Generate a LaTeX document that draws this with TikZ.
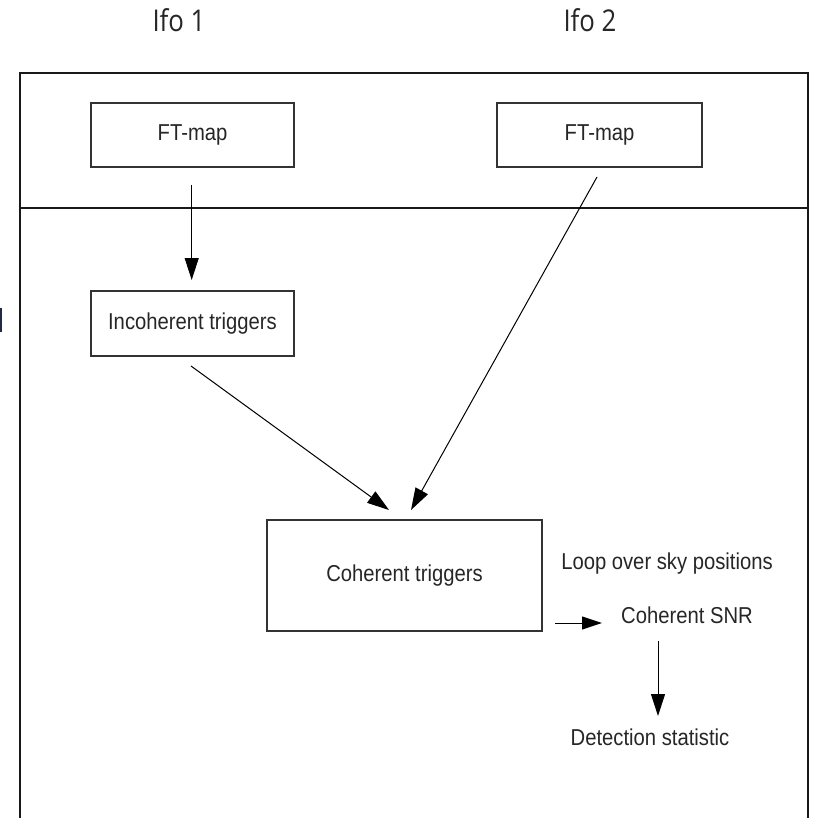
\documentclass[tikz,border=0pt]{standalone}
\usepackage{fontspec}
\setmainfont{Liberation Sans}
\newfontfamily\boxfont[FakeStretch=0.88]{Liberation Sans}
\newfontfamily\ifofont[FakeStretch=0.86]{Open Sans}
\usetikzlibrary{arrows.meta}
\definecolor{boxline}{HTML}{333333}
\definecolor{frag}{HTML}{1F2A44}
\tikzset{
  procbox/.style={draw=boxline, line width=1.2pt, inner sep=0pt, font=\boxfont\fontsize{23}{26}\selectfont, text=black!85},
  plain/.style={inner sep=0pt, font=\boxfont\fontsize{23}{26}\selectfont, text=black!85},
  ifolabel/.style={inner sep=0pt, font=\ifofont\fontsize{30}{34}\selectfont, text=black!85},
  flow/.style={line width=1pt, -{Triangle[length=22pt,width=14pt]}},
  smallflow/.style={line width=1pt, -{Triangle[length=20pt,width=13pt]}},
  frame/.style={line width=1.3pt, draw=black!90}
}
\begin{document}
\begin{tikzpicture}[x=1pt,y=-1pt]
\useasboundingbox (0,0) rectangle (813,818);
% clipped fragment at the left edge
\fill[frag] (0,308) rectangle (2,332);
% frame
\draw[frame] (20,818) -- (20,73) -- (808,73) -- (808,818);
\draw[frame] (20,208) -- (808,208);
% labels
\node[ifolabel] (ifo1) at (179,20) {Ifo 1};
\node[ifolabel] (ifo2) at (590,20) {Ifo 2};
% boxes
\node[procbox, minimum width=203pt, minimum height=64pt] (ft1) at (192.5,135) {FT-map};
\node[procbox, minimum width=205pt, minimum height=64pt] (ft2) at (599.5,135) {FT-map};
\node[procbox, minimum width=203pt, minimum height=65pt] (inc) at (192.5,323.5) {Incoherent triggers};
\node[procbox, minimum width=275pt, minimum height=111pt] (coh) at (404.5,575.5) {Coherent triggers};
% free texts
\node[plain] (loop) at (667,564) {Loop over sky positions};
\node[plain] (snr) at (687,615) {Coherent SNR};
\node[plain] (det) at (650,737) {Detection statistic};
% connector end points
\coordinate (a1s) at (191.7,185);
\coordinate (a1e) at (191.7,280);
\coordinate (a2s) at (191,366);
\coordinate (a2e) at (389,510);
\coordinate (a3s) at (597,177);
\coordinate (a3e) at (411,510);
\coordinate (a4s) at (555,623);
\coordinate (a4e) at (602,623);
\coordinate (a5s) at (658,641);
\coordinate (a5e) at (658,716);
% connectors
\draw[flow] (a1s) -- (a1e);
\draw[flow] (a2s) -- (a2e);
\draw[flow] (a3s) -- (a3e);
\draw[smallflow] (a4s) -- (a4e);
\draw[flow] (a5s) -- (a5e);
\end{tikzpicture}
\end{document}
